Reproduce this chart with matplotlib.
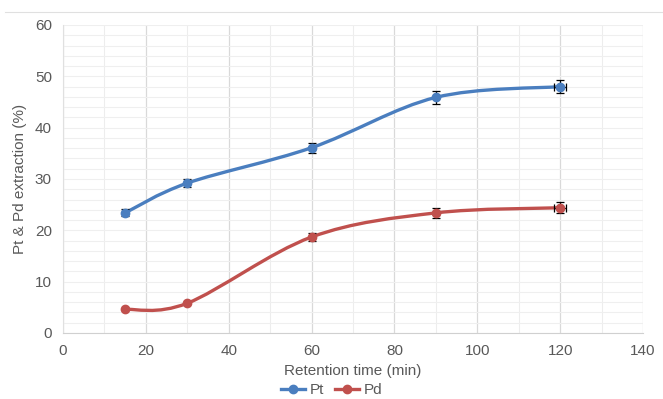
import matplotlib
matplotlib.use("Agg")
import matplotlib.pyplot as plt
from matplotlib.path import Path
from matplotlib.patches import PathPatch
from matplotlib.lines import Line2D
import numpy as np

plt.rcParams['font.family'] = ['Liberation Sans', 'DejaVu Sans']

time = [15, 30, 60, 90, 120]
pt = [23.4, 29.2, 36.1, 45.9, 48.0]
pt_err = [0.7, 0.8, 1.0, 1.2, 1.3]
pd = [4.6, 5.8, 18.7, 23.4, 24.4]
pd_err = [0.0, 0.0, 0.8, 1.0, 1.1]
x_err = [0, 0, 0, 0, 1.5]

blue = '#4a7ebf'
red = '#c0504d'
txt = '#595959'

fig = plt.figure(figsize=(6.63, 3.99), dpi=100)
ax = fig.add_axes([63/663, 66/399, 580/663, 308/399])

def smooth_path(xs, ys):
    pts = np.column_stack([xs, ys]).astype(float)
    n = len(pts)
    verts = [pts[0]]
    codes = [Path.MOVETO]
    for i in range(n - 1):
        p0 = pts[i - 1] if i > 0 else pts[i]
        p1 = pts[i]
        p2 = pts[i + 1]
        p3 = pts[i + 2] if i + 2 < n else pts[i + 1]
        c1 = p1 + (p2 - p0) / 6.0
        c2 = p2 - (p3 - p1) / 6.0
        verts += [c1, c2, p2]
        codes += [Path.CURVE4] * 3
    return Path(verts, codes)

for ys, err, c in [(pt, pt_err, blue), (pd, pd_err, red)]:
    ax.add_patch(PathPatch(smooth_path(time, ys), fill=False, edgecolor=c,
                           lw=2.4, zorder=3, capstyle='round'))
    ax.errorbar(time, ys, yerr=err, xerr=x_err, fmt='none', ecolor='black',
                elinewidth=0.9, capsize=3, capthick=0.9, zorder=4)
    ax.plot(time, ys, 'o', color=c, ms=6, zorder=5)

ax.set_xlim(0, 140)
ax.set_ylim(0, 60)
ax.set_xticks(range(0, 141, 20))
ax.set_yticks(range(0, 61, 10))
ax.set_xticks(range(0, 141, 10), minor=True)
ax.set_yticks(range(0, 61, 2), minor=True)
ax.grid(which='major', axis='x', color='#d9d9d9', lw=0.9)
ax.grid(which='minor', axis='x', color='#ededed', lw=0.8)
ax.grid(which='both', axis='y', color='#efefef', lw=0.8)
ax.set_axisbelow(True)
for s in ['top', 'right']:
    ax.spines[s].set_visible(False)
ax.spines['left'].set_color('#e0e0e0')
ax.spines['bottom'].set_color('#d0d0d0')
ax.tick_params(which='both', length=0, colors=txt, labelsize=11, pad=8)
ax.set_xlabel('Retention time (min)', color=txt, fontsize=11, labelpad=4)
ax.set_ylabel('Pt & Pd extraction (%)', color=txt, fontsize=11, labelpad=6)

handles = [Line2D([], [], color=blue, lw=2.4, marker='o', ms=6),
           Line2D([], [], color=red, lw=2.4, marker='o', ms=6)]
fig.legend(handles, ['Pt', 'Pd'], loc='center', bbox_to_anchor=(0.5, 9/399),
           ncol=2, frameon=False, fontsize=11, labelcolor=txt,
           handlelength=1.6, columnspacing=0.7, handletextpad=0.3,
           borderpad=0.0, borderaxespad=0.0)

fig.add_artist(Line2D([5/663, 1], [1 - 12/399, 1 - 12/399], color='#e0e0e0', lw=0.8))

fig.savefig('out.png', dpi=100)
